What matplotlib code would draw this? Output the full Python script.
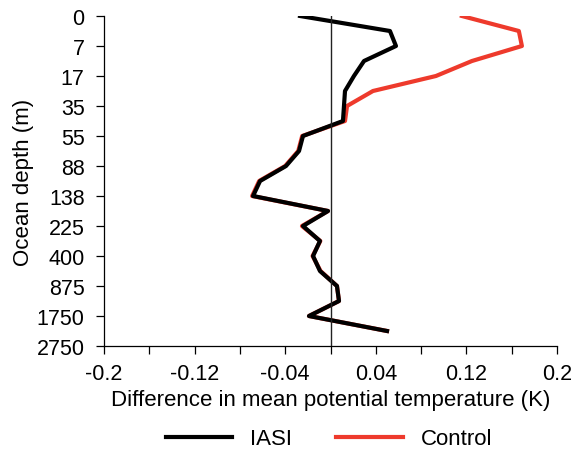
import matplotlib
matplotlib.use("Agg")
import matplotlib.pyplot as plt

plt.rcParams['font.family'] = ['Liberation Sans', 'DejaVu Sans']

depth_labels = ['0', '7', '17', '35', '55', '88', '138', '225', '400', '875', '1750', '2750']
depth_ticks = [0, 1, 2, 3, 4, 5, 6, 7, 8, 9, 10, 11]

# positions of profile points on the level axis (half-level steps)
level_pos = [0, 0.5, 1, 1.5, 2, 2.5, 3, 3.5, 4, 4.5, 5, 5.5,
             6, 6.5, 7, 7.5, 8, 8.5, 9, 9.5, 10, 10.5]

iasi = [-0.0269, 0.0525, 0.0578, 0.0296, 0.0207, 0.0128, 0.0119, 0.0110,
        -0.0243, -0.0278, -0.0393, -0.0622, -0.0684, -0.0022, -0.0243, -0.0093,
        -0.0154, -0.0093, 0.0057, 0.0075, -0.0190, 0.0499]

control = [0.1160, 0.1663, 0.1690, 0.1249, 0.0931, 0.0375, 0.0146, 0.0128,
           -0.0250, -0.0285, -0.0400, -0.0630, -0.0692, -0.0022, -0.0252, -0.0090,
           -0.0158, -0.0088, 0.0057, 0.0075, -0.0190, 0.0499]

xticks = [-0.2, -0.16, -0.12, -0.08, -0.04, 0.0, 0.04, 0.08, 0.12, 0.16, 0.2]
xticklabels = ['-0.2', '', '-0.12', '', '-0.04', '', '0.04', '', '0.12', '', '0.2']

FS = 16
TFS = 15.5
fig = plt.figure(figsize=(5.76, 4.52), dpi=100)
ax = fig.add_axes([104/576, 1 - 347/452, (557 - 104)/576, (347 - 17)/452])

ax.plot(control, level_pos, color='#EE3A2C', lw=3, label='Control')
ax.plot(iasi, level_pos, color='black', lw=3, label='IASI')
ax.axvline(0, color='#222222', lw=1)

ax.set_xlim(-0.2, 0.2)
ax.set_ylim(11, 0)
ax.set_xticks(xticks)
ax.set_xticklabels(xticklabels)
ax.set_yticks(depth_ticks)
ax.set_yticklabels(depth_labels)

for s in ['top', 'right']:
    ax.spines[s].set_visible(False)
for s in ['left', 'bottom']:
    ax.spines[s].set_linewidth(0.9)
ax.tick_params(axis='both', direction='out', length=6, width=0.9, labelsize=TFS)
ax.tick_params(axis='x', pad=6)
ax.tick_params(axis='y', pad=8)

ax.set_xlabel('Difference in mean potential temperature (K)', fontsize=FS, labelpad=4)
ax.set_ylabel('Ocean depth (m)', fontsize=FS, labelpad=2)

handles, labels = ax.get_legend_handles_labels()
order = [1, 0]
fig.legend([handles[i] for i in order], [labels[i] for i in order],
           loc='center', bbox_to_anchor=(329/576, 1 - 440/452), ncol=2,
           frameon=False, fontsize=FS, handlelength=3, handletextpad=0.8,
           columnspacing=2.0)

fig.savefig('out.png', dpi=100)
